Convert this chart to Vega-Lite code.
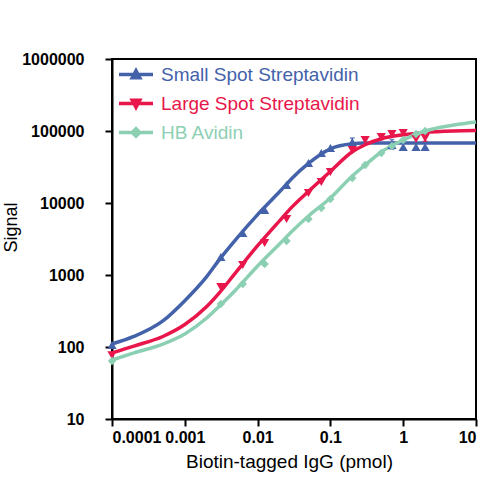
{
  "$schema": "https://vega.github.io/schema/vega-lite/v6.json",
  "width": 364,
  "height": 360,
  "autosize": {"type": "none"},
  "padding": {"left": 112, "top": 59, "right": 24, "bottom": 81},
  "background": "white",
  "config": {
    "font": "Liberation Sans",
    "view": {"stroke": "black", "strokeWidth": 2},
    "axis": {
      "domainColor": "black",
      "domainWidth": 2,
      "tickColor": "black",
      "tickWidth": 2,
      "tickSize": 7,
      "grid": false,
      "labelFont": "Liberation Sans",
      "labelFontSize": 16,
      "labelFontWeight": "bold",
      "labelColor": "black",
      "titleFont": "Liberation Sans",
      "titleFontWeight": "normal",
      "titleColor": "black"
    }
  },
  "datasets": {
    "curve": [
      {"series": "Small Spot Streptavidin", "x": 0.0001, "y": 110},
      {"series": "Small Spot Streptavidin", "x": 0.0002, "y": 140},
      {"series": "Small Spot Streptavidin", "x": 0.0005, "y": 230},
      {"series": "Small Spot Streptavidin", "x": 0.001, "y": 440},
      {"series": "Small Spot Streptavidin", "x": 0.002, "y": 950},
      {"series": "Small Spot Streptavidin", "x": 0.003, "y": 1650},
      {"series": "Small Spot Streptavidin", "x": 0.005, "y": 3100},
      {"series": "Small Spot Streptavidin", "x": 0.01, "y": 6900},
      {"series": "Small Spot Streptavidin", "x": 0.02, "y": 14300},
      {"series": "Small Spot Streptavidin", "x": 0.03, "y": 22300},
      {"series": "Small Spot Streptavidin", "x": 0.05, "y": 35500},
      {"series": "Small Spot Streptavidin", "x": 0.1, "y": 56500},
      {"series": "Small Spot Streptavidin", "x": 0.2, "y": 66500},
      {"series": "Small Spot Streptavidin", "x": 0.3, "y": 68000},
      {"series": "Small Spot Streptavidin", "x": 0.5, "y": 68300},
      {"series": "Small Spot Streptavidin", "x": 1, "y": 68300},
      {"series": "Small Spot Streptavidin", "x": 2, "y": 68300},
      {"series": "Small Spot Streptavidin", "x": 5, "y": 68300},
      {"series": "Small Spot Streptavidin", "x": 10, "y": 68300},
      {"series": "Large Spot Streptavidin", "x": 0.0001, "y": 83},
      {"series": "Large Spot Streptavidin", "x": 0.0002, "y": 103},
      {"series": "Large Spot Streptavidin", "x": 0.0005, "y": 140},
      {"series": "Large Spot Streptavidin", "x": 0.001, "y": 205},
      {"series": "Large Spot Streptavidin", "x": 0.002, "y": 365},
      {"series": "Large Spot Streptavidin", "x": 0.003, "y": 570},
      {"series": "Large Spot Streptavidin", "x": 0.005, "y": 1080},
      {"series": "Large Spot Streptavidin", "x": 0.01, "y": 2550},
      {"series": "Large Spot Streptavidin", "x": 0.02, "y": 5650},
      {"series": "Large Spot Streptavidin", "x": 0.03, "y": 8900},
      {"series": "Large Spot Streptavidin", "x": 0.05, "y": 14500},
      {"series": "Large Spot Streptavidin", "x": 0.1, "y": 27500},
      {"series": "Large Spot Streptavidin", "x": 0.2, "y": 51500},
      {"series": "Large Spot Streptavidin", "x": 0.3, "y": 64500},
      {"series": "Large Spot Streptavidin", "x": 0.5, "y": 78000},
      {"series": "Large Spot Streptavidin", "x": 1, "y": 88500},
      {"series": "Large Spot Streptavidin", "x": 2, "y": 95500},
      {"series": "Large Spot Streptavidin", "x": 5, "y": 100000},
      {"series": "Large Spot Streptavidin", "x": 10, "y": 101500},
      {"series": "HB Avidin", "x": 0.0001, "y": 66},
      {"series": "HB Avidin", "x": 0.0002, "y": 83},
      {"series": "HB Avidin", "x": 0.0005, "y": 110},
      {"series": "HB Avidin", "x": 0.001, "y": 152},
      {"series": "HB Avidin", "x": 0.002, "y": 253},
      {"series": "HB Avidin", "x": 0.003, "y": 371},
      {"series": "HB Avidin", "x": 0.005, "y": 619},
      {"series": "HB Avidin", "x": 0.01, "y": 1334},
      {"series": "HB Avidin", "x": 0.02, "y": 2698},
      {"series": "HB Avidin", "x": 0.03, "y": 4083},
      {"series": "HB Avidin", "x": 0.05, "y": 6592},
      {"series": "HB Avidin", "x": 0.1, "y": 11720},
      {"series": "HB Avidin", "x": 0.2, "y": 23710},
      {"series": "HB Avidin", "x": 0.3, "y": 33700},
      {"series": "HB Avidin", "x": 0.5, "y": 51100},
      {"series": "HB Avidin", "x": 1, "y": 75000},
      {"series": "HB Avidin", "x": 2, "y": 100000},
      {"series": "HB Avidin", "x": 5, "y": 121200},
      {"series": "HB Avidin", "x": 10, "y": 133400}
    ],
    "pts": [
      {"series": "Small Spot Streptavidin", "x": 0.0001, "y": 107},
      {"series": "Small Spot Streptavidin", "x": 0.003125, "y": 1778},
      {"series": "Small Spot Streptavidin", "x": 0.00625, "y": 3830},
      {"series": "Small Spot Streptavidin", "x": 0.0125, "y": 8000},
      {"series": "Small Spot Streptavidin", "x": 0.025, "y": 17780},
      {"series": "Small Spot Streptavidin", "x": 0.05, "y": 35940},
      {"series": "Small Spot Streptavidin", "x": 0.075, "y": 49450},
      {"series": "Small Spot Streptavidin", "x": 0.1, "y": 58050},
      {"series": "Small Spot Streptavidin", "x": 0.2, "y": 70370},
      {"series": "Small Spot Streptavidin", "x": 0.7, "y": 63900},
      {"series": "Small Spot Streptavidin", "x": 1, "y": 59980},
      {"series": "Small Spot Streptavidin", "x": 1.5, "y": 60000},
      {"series": "Small Spot Streptavidin", "x": 2, "y": 60000},
      {"series": "Large Spot Streptavidin", "x": 0.0001, "y": 77},
      {"series": "Large Spot Streptavidin", "x": 0.003125, "y": 681},
      {"series": "Large Spot Streptavidin", "x": 0.00625, "y": 1377},
      {"series": "Large Spot Streptavidin", "x": 0.0125, "y": 2783},
      {"series": "Large Spot Streptavidin", "x": 0.025, "y": 5995},
      {"series": "Large Spot Streptavidin", "x": 0.05, "y": 13770},
      {"series": "Large Spot Streptavidin", "x": 0.075, "y": 19580},
      {"series": "Large Spot Streptavidin", "x": 0.1, "y": 26970},
      {"series": "Large Spot Streptavidin", "x": 0.2, "y": 54450},
      {"series": "Large Spot Streptavidin", "x": 0.3, "y": 75000},
      {"series": "Large Spot Streptavidin", "x": 0.5, "y": 82540},
      {"series": "Large Spot Streptavidin", "x": 0.7, "y": 90900},
      {"series": "Large Spot Streptavidin", "x": 1, "y": 93800},
      {"series": "Large Spot Streptavidin", "x": 1.5, "y": 77400},
      {"series": "Large Spot Streptavidin", "x": 2, "y": 80000},
      {"series": "HB Avidin", "x": 0.0001, "y": 64},
      {"series": "HB Avidin", "x": 0.003125, "y": 395},
      {"series": "HB Avidin", "x": 0.00625, "y": 750},
      {"series": "HB Avidin", "x": 0.0125, "y": 1422},
      {"series": "HB Avidin", "x": 0.025, "y": 2965},
      {"series": "HB Avidin", "x": 0.05, "y": 5995},
      {"series": "HB Avidin", "x": 0.075, "y": 8530},
      {"series": "HB Avidin", "x": 0.1, "y": 11370},
      {"series": "HB Avidin", "x": 0.2, "y": 22230},
      {"series": "HB Avidin", "x": 0.3, "y": 33700},
      {"series": "HB Avidin", "x": 0.5, "y": 49450},
      {"series": "HB Avidin", "x": 0.7, "y": 61900},
      {"series": "HB Avidin", "x": 1, "y": 75000},
      {"series": "HB Avidin", "x": 1.5, "y": 90900},
      {"series": "HB Avidin", "x": 2, "y": 100000}
    ],
    "err": [
      {"series": "Small Spot Streptavidin", "x": 0.2, "lo": 62000, "hi": 80000},
      {"series": "Small Spot Streptavidin", "x": 0.7, "lo": 56000, "hi": 76000},
      {"series": "Large Spot Streptavidin", "x": 0.5, "lo": 76000, "hi": 90000},
      {"series": "Large Spot Streptavidin", "x": 0.7, "lo": 84000, "hi": 98000},
      {"series": "Large Spot Streptavidin", "x": 1, "lo": 86000, "hi": 100000},
      {"series": "Large Spot Streptavidin", "x": 2, "lo": 72000, "hi": 88000}
    ]
  },
  "layer": [
    {
      "data": {"name": "curve"},
      "mark": {"type": "line", "interpolate": "monotone", "strokeWidth": 3.5},
      "encoding": {
        "x": {
          "field": "x", "type": "quantitative",
          "scale": {"type": "log", "domain": [0.0001, 10]},
          "axis": {"values": [0.0001, 0.001, 0.01, 0.1, 1, 10], "format": "~r", "title": "Biotin-tagged IgG (pmol)", "titleFontSize": 19, "labelPadding": 3, "labelDx": -6, "titlePadding": 7, "titleX": 177}
        },
        "y": {
          "field": "y", "type": "quantitative",
          "scale": {"type": "log", "domain": [10, 1000000]},
          "axis": {"values": [10, 100, 1000, 10000, 100000, 1000000], "format": "~r", "title": "Signal", "titleFontSize": 18, "labelPadding": 21, "titlePadding": 1, "titleY": 168}
        },
        "color": {
          "field": "series", "type": "nominal",
          "scale": {"domain": ["Small Spot Streptavidin", "Large Spot Streptavidin", "HB Avidin"], "range": ["#4462AA", "#E8164A", "#8CD0B4"]},
          "legend": {
            "title": null,
            "orient": "none",
            "legendX": 5,
            "legendY": 1,
            "padding": 0,
            "symbolSize": 1156,
            "clipHeight": 29,
            "rowPadding": 0,
            "labelFontSize": 19,
            "labelFont": "Liberation Sans",
            "labelOffset": 6,
            "labelLimit": 400,
            "encode": {
              "symbols": {
                "update": {
                  "shape": {"signal": "datum.value === 'Small Spot Streptavidin' ? 'M-1,0H1M-0.22,0.19L0,-0.22L0.22,0.19Z' : datum.value === 'Large Spot Streptavidin' ? 'M-1,0H1M-0.22,-0.19L0,0.22L0.22,-0.19Z' : 'M-1,0H1M0,-0.22L0.22,0L0,0.22L-0.22,0Z'"},
                  "fill": {"scale": "color", "field": "value"},
                  "stroke": {"scale": "color", "field": "value"},
                  "strokeWidth": {"value": 3.5},
                  "opacity": {"value": 1}
                }
              },
              "labels": {
                "update": {"fill": {"scale": "color", "field": "value"}}
              }
            }
          }
        }
      }
    },
    {
      "data": {"name": "err"},
      "mark": {"type": "errorbar", "ticks": true, "thickness": 1.5},
      "encoding": {
        "x": {"field": "x", "type": "quantitative"},
        "y": {"field": "lo", "type": "quantitative", "title": "Signal"},
        "y2": {"field": "hi"},
        "color": {"field": "series", "type": "nominal"}
      }
    },
    {
      "data": {"name": "pts"},
      "transform": [{"filter": "datum.series === 'Small Spot Streptavidin'"}],
      "mark": {"type": "point", "filled": true, "size": 85, "opacity": 1, "shape": "triangle-up"},
      "encoding": {
        "x": {"field": "x", "type": "quantitative"},
        "y": {"field": "y", "type": "quantitative", "title": "Signal"},
        "color": {"field": "series", "type": "nominal"}
      }
    },
    {
      "data": {"name": "pts"},
      "transform": [{"filter": "datum.series === 'Large Spot Streptavidin'"}],
      "mark": {"type": "point", "filled": true, "size": 85, "opacity": 1, "shape": "triangle-down"},
      "encoding": {
        "x": {"field": "x", "type": "quantitative"},
        "y": {"field": "y", "type": "quantitative", "title": "Signal"},
        "color": {"field": "series", "type": "nominal"}
      }
    },
    {
      "data": {"name": "pts"},
      "transform": [{"filter": "datum.series === 'HB Avidin'"}],
      "mark": {"type": "point", "filled": true, "size": 70, "opacity": 1, "shape": "diamond"},
      "encoding": {
        "x": {"field": "x", "type": "quantitative"},
        "y": {"field": "y", "type": "quantitative", "title": "Signal"},
        "color": {"field": "series", "type": "nominal"}
      }
    }
  ]
}
